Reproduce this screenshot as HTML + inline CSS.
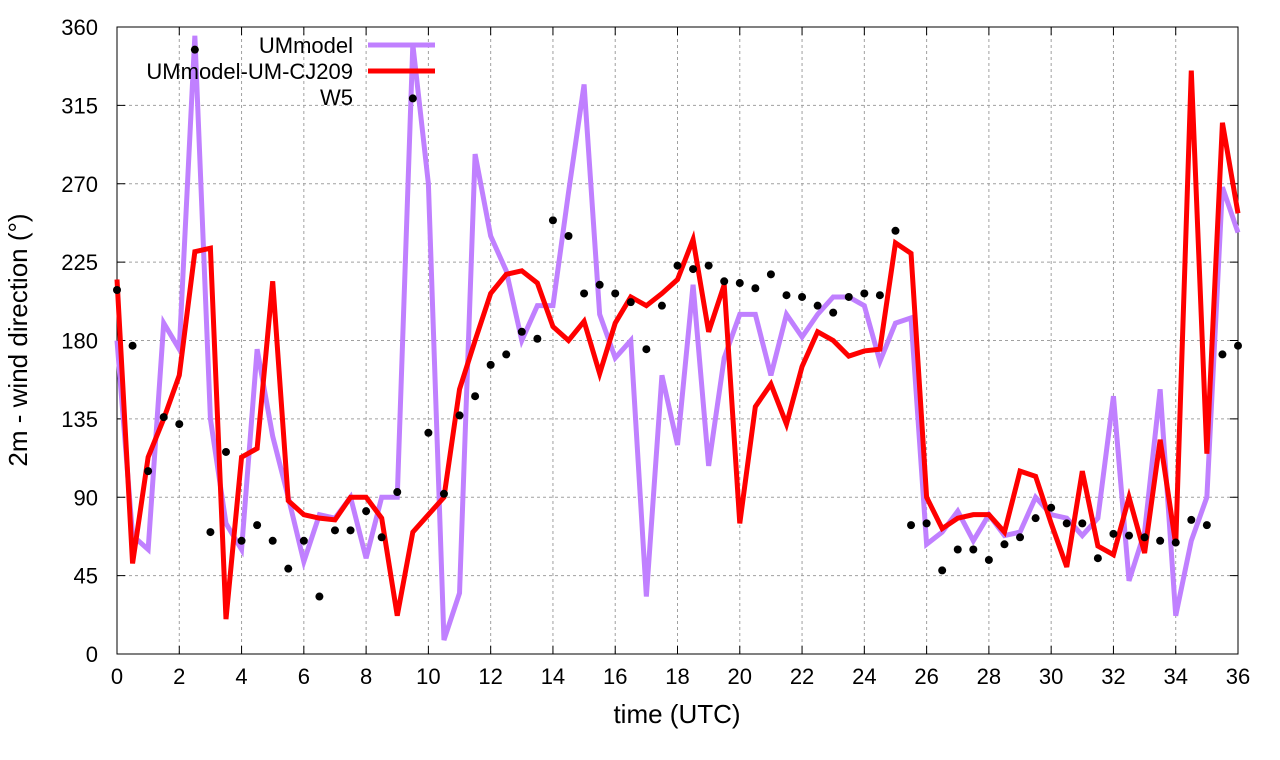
<!DOCTYPE html>
<html><head><meta charset="utf-8"><style>
body{margin:0;background:#fff}
svg{display:block;font-family:"Liberation Sans",sans-serif}
</style></head><body>
<svg id="chart" width="1280" height="760"></svg>
<script>
const times = Array.from({length:73},(_, i)=>i*0.5);
const umModel = [180,68,60,190,175,355,135,75,60,175,125,90,53,80,78,90,55,90,90,350,270,8,35,287,240,220,180,200,200,265,327,195,170,180,33,160,120,212,108,170,195,195,160,195,182,195,205,205,200,168,190,193,63,70,82,65,80,68,70,90,80,78,68,78,148,42,70,152,22,65,90,268,242];
const umCJ209 = [215,52,113,135,160,231,233,20,113,118,214,88,80,78,77,90,90,78,22,70,80,90,152,180,207,218,220,213,188,180,191,161,190,205,200,207,215,238,185,212,75,142,155,132,165,185,180,171,174,175,236,230,90,72,78,80,80,70,105,102,75,50,105,62,57,90,58,123,63,335,115,305,253];
const w5 = [209,177,105,136,132,347,70,116,65,74,65,49,65,33,71,71,82,67,93,319,127,92,137,148,166,172,185,181,249,240,207,212,207,202,175,200,223,221,223,214,213,210,218,206,205,200,196,205,207,206,243,74,75,48,60,60,54,63,67,78,84,75,75,55,69,68,67,65,64,77,74,172,177];
const xTicks = [0,2,4,6,8,10,12,14,16,18,20,22,24,26,28,30,32,34,36];
const yTicks = [0,45,90,135,180,225,270,315,360];

const L=117,R=1238,T=27,B=654;
const xs=t=>L+(t/36)*(R-L);
const ys=v=>B-(v/360)*(B-T);
const svg=document.getElementById('chart');
const NS='http://www.w3.org/2000/svg';
function mk(tag,attrs,parent){const e=document.createElementNS(NS,tag);for(const k in attrs)e.setAttribute(k,attrs[k]);(parent||svg).appendChild(e);return e;}

const grid=mk('g',{});


xTicks.forEach(t=>{if(t>0&&t<36)mk('line',{x1:xs(t),x2:xs(t),y1:T,y2:B,stroke:'#a0a0a0','stroke-dasharray':'3,3','stroke-width':1},grid);});
yTicks.forEach(v=>{if(v>0&&v<360)mk('line',{x1:L,x2:R,y1:ys(v),y2:ys(v),stroke:'#a0a0a0','stroke-dasharray':'3,3','stroke-width':1},grid);});

const ax=mk('g',{});


mk('rect',{x:L,y:T,width:R-L,height:B-T,fill:'none',stroke:'#000','stroke-width':1},ax);
xTicks.forEach(t=>{
  mk('line',{x1:xs(t),x2:xs(t),y1:B,y2:B-8,stroke:'#000'},ax);
  mk('line',{x1:xs(t),x2:xs(t),y1:T,y2:T+8,stroke:'#000'},ax);
  const tx=mk('text',{x:xs(t),y:B+30,'text-anchor':'middle','font-size':22},ax);tx.textContent=t;
  
  
});
yTicks.forEach(v=>{
  mk('line',{x1:L,x2:L+8,y1:ys(v),y2:ys(v),stroke:'#000'},ax);
  mk('line',{x1:R,x2:R-8,y1:ys(v),y2:ys(v),stroke:'#000'},ax);
  const tx=mk('text',{x:L-19,y:ys(v)+8,'text-anchor':'end','font-size':22},ax);tx.textContent=v;
  
  
});
const xt=mk('text',{x:677,y:723,'text-anchor':'middle','font-size':26});xt.textContent='time (UTC)';


const yt=mk('text',{x:0,y:0,'text-anchor':'middle','font-size':26,transform:'translate(27,340) rotate(-90)'});yt.textContent='2m - wind direction (°)';



function line(vals,color,name){
  const p=mk('polyline',{points:vals.map((v,i)=>xs(times[i])+','+ys(v)).join(' '),fill:'none',stroke:color,'stroke-width':5,'stroke-linejoin':'miter'});
  
  
}
line(umModel,'#c080ff','umodel-line');
line(umCJ209,'#ff0000','umodel-cj209-line');
const pts=mk('g',{});


w5.forEach((v,i)=>{mk('circle',{cx:xs(times[i]),cy:ys(v),r:4,fill:'#000'},pts);});

const lg=mk('g',{});


[['UMmodel','#c080ff',45],['UMmodel-UM-CJ209','#ff0000',71],['W5',null,97]].forEach(([n,c,y])=>{
  const t=mk('text',{x:353,y:y+8,'text-anchor':'end','font-size':22},lg);t.textContent=n;
  
  
  if(c)mk('line',{x1:368,x2:435,y1:y,y2:y,stroke:c,'stroke-width':5},lg);
});
</script>
</body></html>
